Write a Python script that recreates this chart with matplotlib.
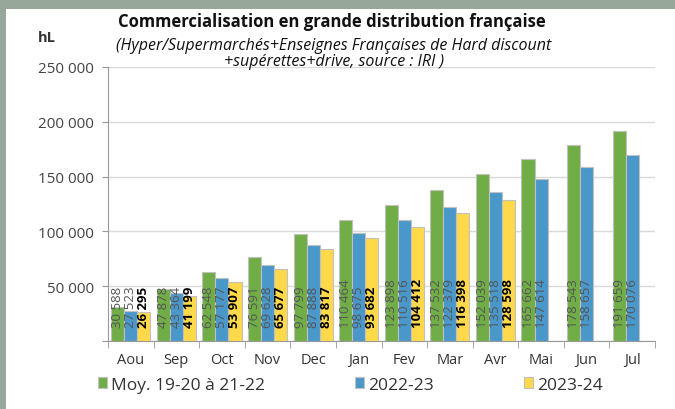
import matplotlib

matplotlib.use("Agg")
import matplotlib.pyplot as plt
from matplotlib.patches import Rectangle
from matplotlib.ticker import FuncFormatter, MultipleLocator
import numpy as np

MONTHS = ["Aou", "Sep", "Oct", "Nov", "Dec", "Jan", "Fev", "Mar", "Avr", "Mai", "Jun", "Jul"]
MOY = [30588, 47878, 62548, 76591, 97799, 110464, 123898, 137532, 152039, 165662, 178543, 191659]
Y2223 = [27523, 43364, 57177, 69628, 87888, 98675, 110516, 122379, 135518, 147614, 158657, 170076]
Y2324 = [26295, 41199, 53907, 65677, 83817, 93682, 104412, 116398, 128598]

SERIES = [
    ("Moy. 19-20 à 21-22", MOY, "#70ad47", "#555555", "normal"),
    ("2022-23", Y2223, "#4a97c9", "#555555", "normal"),
    ("2023-24", Y2324, "#ffd94a", "#000000", "bold"),
]

plt.rcParams["font.family"] = ["Open Sans", "DejaVu Sans"]

fig = plt.figure(figsize=(6.75, 4.1), dpi=100)
fig.patch.set_facecolor("#97a89a")
fig.add_artist(Rectangle((6 / 675, 0), 1, 1 - 10 / 410, transform=fig.transFigure,
                         facecolor="white", edgecolor="none", zorder=0))

ax = fig.add_axes([108 / 675, 1 - 342 / 410, 547 / 675, 274 / 410])
ax.set_facecolor("white")

w = 0.286
x = np.arange(len(MONTHS))
for i, (name, vals, color, tcol, weight) in enumerate(SERIES):
    xs = x[: len(vals)] + (i - 1) * w
    ax.bar(xs, vals, width=w, color=color, edgecolor="#c0c0c0", linewidth=0.8,
           zorder=3, label=name)
    for xi, v in zip(xs, vals):
        # labels sit a little above the base, reading upward
        ax.annotate(f"{v:,}".replace(",", " "), (xi, 0), textcoords="offset points",
                    xytext=(0, 10), rotation=90, ha="center", va="bottom",
                    fontsize=9.5, color=tcol, fontweight=weight, zorder=4)

ax.set_ylim(0, 250000)
ax.set_xlim(-0.5, len(MONTHS) - 0.5)
ax.yaxis.set_major_locator(MultipleLocator(50000))
ax.yaxis.set_major_formatter(FuncFormatter(lambda v, p: "" if v == 0 else f"{int(v):,}".replace(",", " ")))
ax.grid(axis="y", color="#d9d9d9", linewidth=1, zorder=0)
ax.set_xticks(x, MONTHS)
ax.set_xticks(np.arange(len(MONTHS) + 1) - 0.5, minor=True)
ax.tick_params(axis="x", which="major", length=0, pad=8, labelsize=10.5, colors="#333333")
ax.tick_params(axis="x", which="minor", length=5, color="#999999")
ax.tick_params(axis="y", length=4, color="#999999", labelsize=11, labelcolor="#444444", pad=6)
for s in ("top", "right"):
    ax.spines[s].set_visible(False)
ax.spines["left"].set_color("#999999")
ax.spines["bottom"].set_color("#999999")

fig.text(332 / 675, 1 - 22 / 410, "Commercialisation en grande distribution française",
         ha="center", va="center", fontsize=12, fontweight="bold", color="#111111")
fig.text(334 / 675, 1 - 46 / 410, "(Hyper/Supermarchés+Enseignes Françaises de Hard discount",
         ha="center", va="center", fontsize=11.5, style="italic", color="#111111")
fig.text(334 / 675, 1 - 62 / 410, "+supérettes+drive, source : IRI )",
         ha="center", va="center", fontsize=11.5, style="italic", color="#111111")
fig.text(47 / 675, 1 - 38 / 410, "hL", ha="center", va="center", fontsize=10.5,
         fontweight="bold", color="#333333")

leg = fig.legend(loc="center left", bbox_to_anchor=(98 / 675, 1 - 386 / 410), ncol=3,
                 frameon=False, fontsize=12.5, handlelength=0.5, handleheight=0.6,
                 handletextpad=0.25, columnspacing=5.2, borderpad=0, borderaxespad=0)
for t in leg.get_texts():
    t.set_color("#333333")

fig.savefig("out.png", dpi=100)
